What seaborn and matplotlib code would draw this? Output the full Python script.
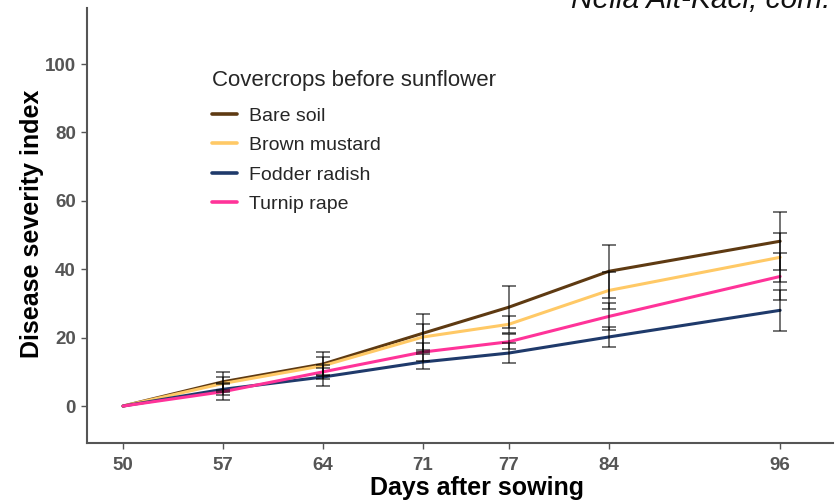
import numpy as np
import pandas as pd
import matplotlib
matplotlib.use("Agg")
import matplotlib.pyplot as plt
import seaborn as sns

days = [50, 57, 64, 71, 77, 84, 96]
treatments = ["Bare soil", "Brown mustard", "Fodder radish", "Turnip rape"]
bare_soil = [0, 7.1, 12.3, 21.3, 28.9, 39.4, 48.2]
brown_mustard = [0, 6.6, 11.8, 20.2, 23.9, 33.8, 43.5]
fodder_radish = [0, 4.9, 8.5, 12.9, 15.5, 20.2, 28.0]
turnip_rape = [0, 4.2, 10.0, 15.8, 18.8, 26.2, 37.9]
bare_soil_err = [0, 2.9, 3.5, 5.5, 6.1, 7.7, 8.5]
brown_mustard_err = [0, 1.9, 2.6, 3.9, 2.5, 5.5, 7.2]
fodder_radish_err = [0, 1.7, 2.7, 2.2, 2.8, 3.0, 6.0]
turnip_rape_err = [0, 2.3, 2.0, 2.5, 2.2, 4.0, 7.0]
colors = ["#5E3A12", "#FFC966", "#1F3A6B", "#FF3399"]

values = [bare_soil, brown_mustard, fodder_radish, turnip_rape]
errs = [bare_soil_err, brown_mustard_err, fodder_radish_err, turnip_rape_err]
df = pd.DataFrame({
    "day": days * 4,
    "dsi": sum(values, []),
    "err": sum(errs, []),
    "treatment": sum([[t] * len(days) for t in treatments], []),
})

sns.set_theme(style="white")
plt.rcParams["font.family"] = ["Liberation Sans", "DejaVu Sans"]

fig = plt.figure(figsize=(8.35, 5.01), dpi=100)
ax = fig.add_axes([87 / 835, 58 / 501, 746 / 835, 435 / 501])

for t in treatments:
    sub = df[(df.treatment == t) & (df.err > 0)]
    ax.errorbar(sub["day"], sub["dsi"], yerr=sub["err"], fmt="none",
                ecolor="#000000", alpha=0.55, elinewidth=1.4, capsize=5,
                capthick=1.4, zorder=3)

sns.lineplot(data=df, x="day", y="dsi", hue="treatment", palette=colors,
             hue_order=treatments, linewidth=2.2, ax=ax, zorder=2)

ax.set_xlim(47.48, 99.7)
ax.set_ylim(-10.8, 116.4)
ax.set_xticks(days)
ax.set_yticks([0, 20, 40, 60, 80, 100])
ax.tick_params(axis="both", which="both", length=4, width=1, color="#555555",
               labelsize=13.5, labelcolor="#555555", direction="out",
               bottom=True, left=True)
ax.tick_params(axis="x", pad=6)
ax.tick_params(axis="y", pad=4)
for lab in ax.get_xticklabels() + ax.get_yticklabels():
    lab.set_fontweight("bold")
for s in ["top", "right"]:
    ax.spines[s].set_visible(False)
for s in ["left", "bottom"]:
    ax.spines[s].set_color("#555555")
    ax.spines[s].set_linewidth(1.5)

ax.set_xlabel("Days after sowing", fontsize=18, fontweight="bold", color="black")
ax.set_ylabel("Disease severity index", fontsize=18, fontweight="bold", color="black")
ax.xaxis.set_label_coords((477 - 87) / 746, -(476 - 443) / 435)
ax.yaxis.set_label_coords(-(87 - 44) / 746, (443 - 224) / 435)

leg = ax.legend(title="Covercrops before sunflower", loc="upper left",
                bbox_to_anchor=(0.157, 0.876), frameon=False, fontsize=14,
                title_fontsize=16, handlelength=1.3, handletextpad=0.6,
                labelspacing=0.6, alignment="left", borderaxespad=0)
leg._legend_box.sep = 12
for h in leg.get_lines():
    h.set_linewidth(2.6)

fig.text(830 / 835, 1 - 7.5 / 501, "Nella Ait-Kaci, com.", ha="right", va="baseline",
         fontsize=21.5, style="italic", color="#111111")

fig.savefig("out.png", dpi=100)
